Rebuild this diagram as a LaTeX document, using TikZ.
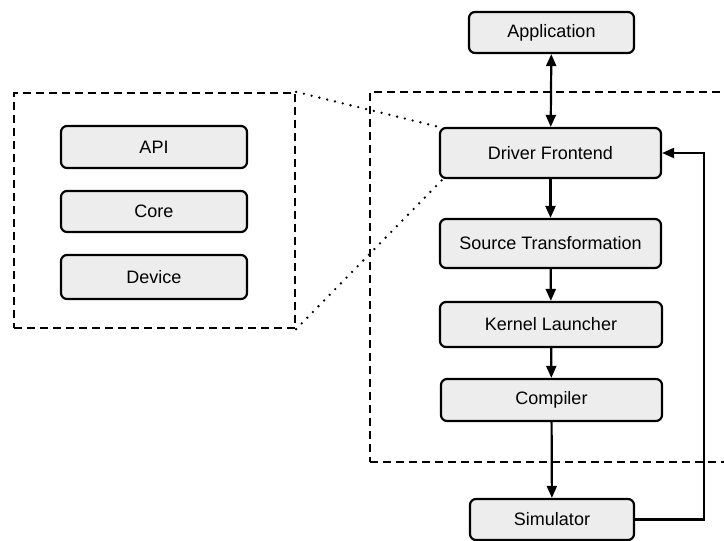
\documentclass[tikz,border=0pt]{standalone}
\usepackage{fontspec}
\setmainfont{Liberation Sans}
\usetikzlibrary{arrows.meta}
\begin{document}
\begin{tikzpicture}[x=1pt,y=-1pt,
  box/.style={draw=black, line width=2.2pt, rounded corners=6pt, fill=gray!14,
    font=\fontsize{18}{21}\selectfont, inner sep=0pt, anchor=center},
  grp/.style={draw=black, line width=2.2pt, dash pattern=on 8pt off 5pt, inner sep=0pt, anchor=center},
  arr/.style={line width=2.2pt, -{Triangle[length=12pt,width=10pt]}},
  darr/.style={line width=2.2pt, {Triangle[length=12pt,width=10pt]}-{Triangle[length=12pt,width=10pt]}},
  dots/.style={line width=2.6pt, line cap=round, dash pattern=on 0pt off 8pt}]
\useasboundingbox (0,0) rectangle (724,541);
\node[grp, minimum width=281pt, minimum height=235pt] (lbox) at (154.5,210.5) {};
\node[grp, minimum width=380pt, minimum height=370pt] (rbox) at (560,277) {};
\node[box, minimum width=165pt, minimum height=41pt] (app) at (551.5,32.5) {Application};
\node[box, minimum width=221pt, minimum height=50pt] (drv) at (550.5,153) {Driver Frontend};
\node[box, minimum width=221pt, minimum height=49pt] (src) at (550.5,243.5) {Source Transformation};
\node[box, minimum width=222pt, minimum height=45pt] (kl) at (551,324.5) {Kernel Launcher};
\node[box, minimum width=221pt, minimum height=42pt] (comp) at (551.5,400) {Compiler};
\node[box, minimum width=164pt, minimum height=41pt] (sim) at (552,519.5) {Simulator};
\node[box, minimum width=186pt, minimum height=42pt] (api) at (154,147) {API};
\node[box, minimum width=186pt, minimum height=41pt] (core) at (154,211.5) {Core};
\node[box, minimum width=186pt, minimum height=44pt] (dev) at (154,277) {Device};
\draw[darr] (app) -- (drv);
\draw[arr] (drv) -- (src);
\draw[arr] (src) -- (kl);
\draw[arr] (kl) -- (comp);
\draw[arr] (comp) -- (sim);
\coordinate (fb) at (704,153);
\draw[arr] (sim.east) -| (fb) -- (drv.east);
\draw[dots] (lbox.north east) -- (drv.north west);
\draw[dots] (lbox.south east) -- ([xshift=4pt]drv.south west);
\end{tikzpicture}
\end{document}
